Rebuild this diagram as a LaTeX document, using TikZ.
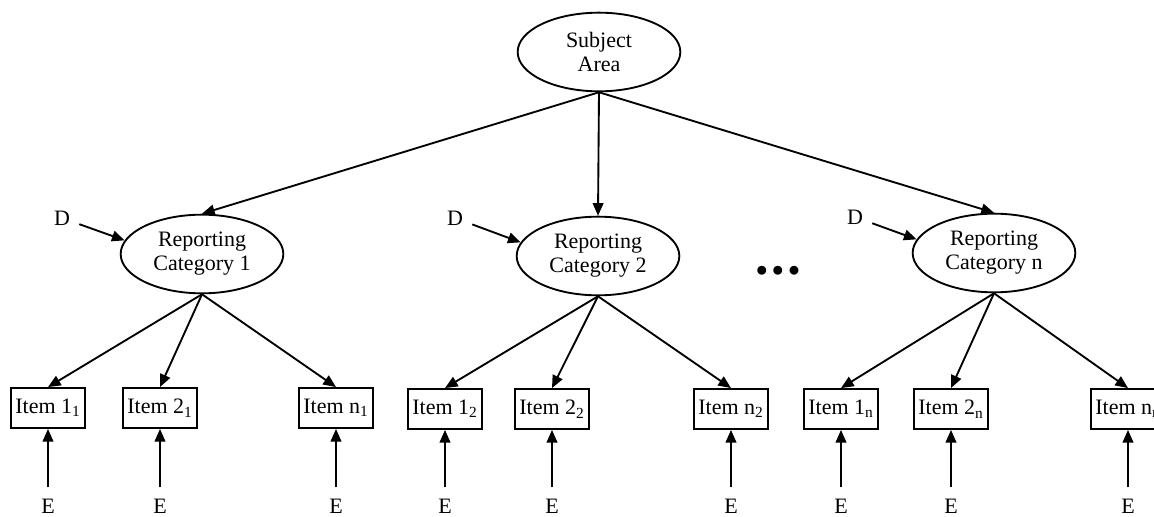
\documentclass[tikz,border=0pt]{standalone}
\usepackage{fontspec}
\setmainfont{Liberation Serif}
\usetikzlibrary{arrows.meta,shapes.geometric}

\begin{document}
\begin{tikzpicture}[
  x=0.75pt, y=-0.75pt,
  font=\fontsize{16.5}{18}\selectfont,
  line width=1.4pt,
  latent/.style={draw, ellipse, align=center, inner sep=0pt,
                 minimum width=122pt, minimum height=59pt},
  item/.style={draw, rectangle, inner sep=2pt,
               minimum width=56pt, minimum height=30pt},
  elab/.style={inner sep=0pt, outer sep=8.5pt},
  dlab/.style={inner sep=0pt, outer sep=7pt},
  >={Triangle[length=9.5pt,width=8pt]}]
\useasboundingbox (0,0) rectangle (1154,517);
% top level
\node[latent] (sa) at (599,52) {Subject\\Area};
\node[latent] (rc1) at (202,254) {Reporting\\Category 1};
\node[latent] (rc2) at (598,256) {Reporting\\Category 2};
\node[latent] (rcn) at (994,253) {Reporting\\Category n};
\draw[->] (sa.south) -- (rc1.north);
\draw[->] (sa.south) -- (rc2.north);
\draw[->] (sa.south) -- (rcn.north);
\node (dots) at (778,271) {$\bullet$\hspace{3.5pt}$\bullet$\hspace{3.5pt}$\bullet$};
% disturbances
\node[dlab] (d1) at (62,218) {D};
\node[dlab] (d2) at (455,218) {D};
\node[dlab] (dn) at (855,217) {D};
\draw[->] (d1) -- (rc1.170);
\draw[->] (d2) -- (rc2.170);
\draw[->] (dn) -- (rcn.170);
% items of category 1
\node[item] (i11) at (48,408) {Item 1\textsubscript{1}};
\node[item] (i21) at (160,408) {Item 2\textsubscript{1}};
\node[item] (in1) at (336,408) {Item n\textsubscript{1}};
\draw[->] (rc1.south) -- (i11.north);
\draw[->] (rc1.south) -- (i21.north);
\draw[->] (rc1.south) -- (in1.north);
% items of category 2
\node[item] (i12) at (445,409) {Item 1\textsubscript{2}};
\node[item] (i22) at (552,409) {Item 2\textsubscript{2}};
\node[item] (in2) at (731,409) {Item n\textsubscript{2}};
\draw[->] (rc2.south) -- (i12.north);
\draw[->] (rc2.south) -- (i22.north);
\draw[->] (rc2.south) -- (in2.north);
% items of category n
\node[item] (i1n) at (841,409) {Item 1\textsubscript{n}};
\node[item] (i2n) at (951,409) {Item 2\textsubscript{n}};
\node[item] (inn) at (1128,409) {Item n\textsubscript{n}};
\draw[->] (rcn.south) -- (i1n.north);
\draw[->] (rcn.south) -- (i2n.north);
\draw[->] (rcn.south) -- (inn.north);
% errors
\node[elab] (e11) at (48,506) {E};
\node[elab] (e21) at (160,506) {E};
\node[elab] (en1) at (336,506) {E};
\node[elab] (e12) at (445,506) {E};
\node[elab] (e22) at (552,506) {E};
\node[elab] (en2) at (731,506) {E};
\node[elab] (e1n) at (841,506) {E};
\node[elab] (e2n) at (951,506) {E};
\node[elab] (enn) at (1128,506) {E};
\draw[->] (e11) -- (i11);
\draw[->] (e21) -- (i21);
\draw[->] (en1) -- (in1);
\draw[->] (e12) -- (i12);
\draw[->] (e22) -- (i22);
\draw[->] (en2) -- (in2);
\draw[->] (e1n) -- (i1n);
\draw[->] (e2n) -- (i2n);
\draw[->] (enn) -- (inn);
\end{tikzpicture}
\end{document}
